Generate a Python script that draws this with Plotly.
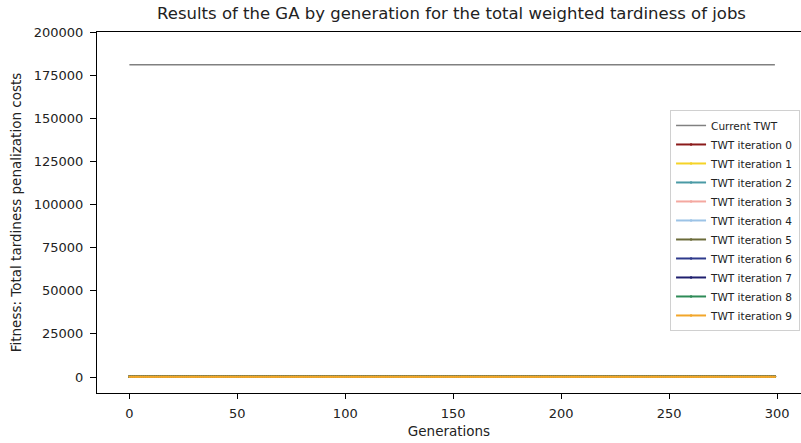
import plotly.graph_objects as go

# Generations evaluated by the GA
generations = list(range(0, 300))

# Current total weighted tardiness of the schedule (before optimisation)
current_twt = 181000

# Best TWT found by the GA in each run (flat near zero over all generations)
twt_iteration_values = [150, 150, 150, 150, 150, 150, 150, 150, 150, 150]

iteration_names = [f"TWT iteration {i}" for i in range(10)]
iteration_colors = [
    "#8b1a1a", "#f5d327", "#4a9aa5", "#f4a8a0", "#9cc3e6",
    "#6b6b3a", "#2e3a8c", "#1f1f6e", "#2e8b57", "#f2a62a",
]

FONT = "DejaVu Sans"
TEXT = "#222222"

fig = go.Figure()

fig.add_trace(go.Scatter(
    x=generations, y=[current_twt] * len(generations),
    mode="lines", name="Current TWT",
    line=dict(color="#808080", width=1.5),
))

for name, color, val in zip(iteration_names, iteration_colors, twt_iteration_values):
    fig.add_trace(go.Scatter(
        x=generations, y=[val] * len(generations),
        mode="lines+markers", name=name,
        line=dict(color=color, width=2),
        marker=dict(color=color, size=2.5),
    ))

fig.update_layout(
    width=801, height=443,
    margin=dict(l=97, r=0, t=32, b=50),
    paper_bgcolor="white", plot_bgcolor="white",
    font=dict(family=FONT, color=TEXT, size=13),
    title=dict(
        text="Results of the GA by generation for the total weighted tardiness of jobs",
        x=0.5637, xanchor="center", y=0.971, yanchor="middle",
        font=dict(size=16.5, family=FONT, color=TEXT),
    ),
    legend=dict(
        x=0.814, y=0.784, xanchor="left", yanchor="top",
        bgcolor="white", bordercolor="#d0d0d0", borderwidth=1,
        font=dict(size=10.5, family=FONT),
        tracegroupgap=0, itemwidth=30,
    ),
)

fig.update_xaxes(
    range=[-15, 311.1], tickvals=[0, 50, 100, 150, 200, 250, 300],
    showgrid=False, zeroline=False,
    showline=True, linecolor="black", linewidth=1.2, mirror=True,
    ticks="outside", ticklen=5, tickcolor="black", tickwidth=1,
    ticklabelstandoff=3,
    tickfont=dict(size=13),
    title=dict(text="Generations", font=dict(size=13.5), standoff=6),
)
fig.update_yaxes(
    range=[-9275, 200000],
    tickvals=[0, 25000, 50000, 75000, 100000, 125000, 150000, 175000, 200000],
    tickformat="d",
    showgrid=False, zeroline=False,
    showline=True, linecolor="black", linewidth=1.2,
    ticks="outside", ticklen=6, tickcolor="black", tickwidth=1,
    ticklabelstandoff=4,
    tickfont=dict(size=13),
    title=dict(text="Fitness: Total tardiness penalization costs", font=dict(size=13.5), standoff=8),
)

fig.write_html("out.html")
